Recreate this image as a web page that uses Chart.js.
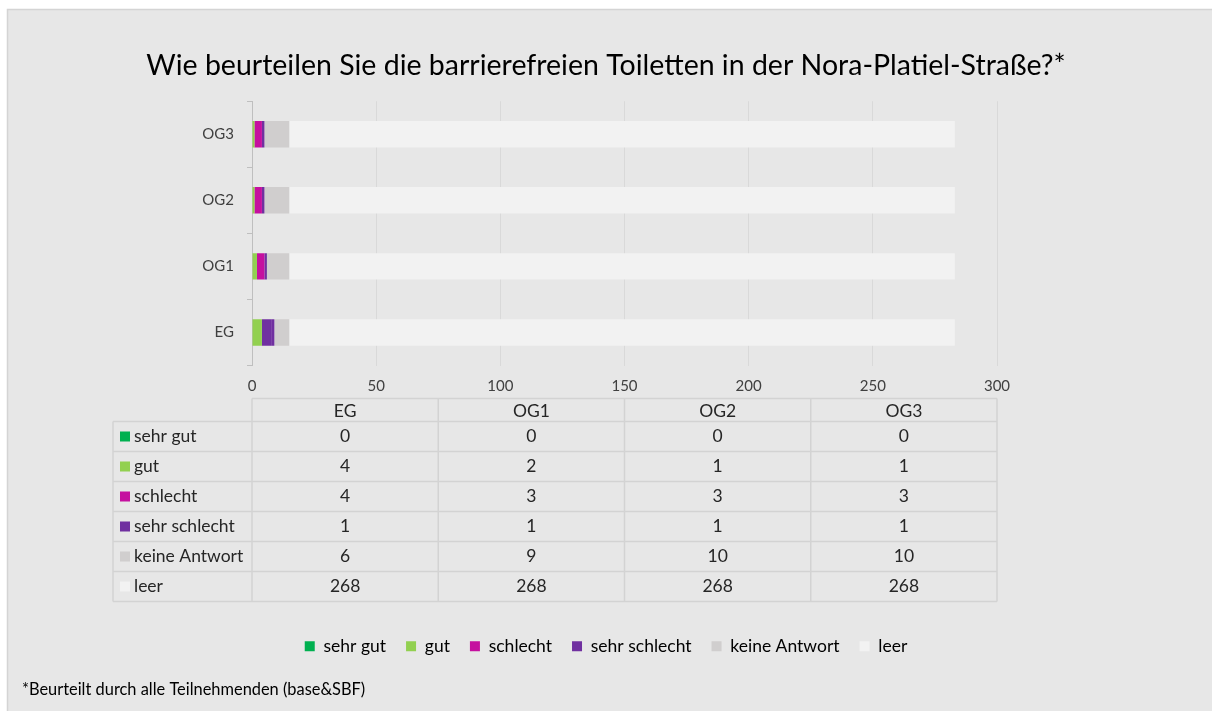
<!DOCTYPE html>
<html>
<head>
<meta charset="utf-8">
<script src="https://cdn.jsdelivr.net/npm/chart.js@4.4.0/dist/chart.umd.min.js"></script>
<style>
html, body { margin: 0; padding: 0; background: #fff; }
#wrap { position: relative; width: 1212px; height: 711px; }
</style>
</head>
<body>
<div id="wrap"><canvas id="toiletChart" width="1212" height="711"></canvas></div>
<script>
// floors, bottom to top like in the chart
const floors = ['EG', 'OG1', 'OG2', 'OG3'];
const ratings = ['sehr gut', 'gut', 'schlecht', 'sehr schlecht', 'keine Antwort', 'leer'];

// answers per floor (same order as floors)
const sehrGut = [0, 0, 0, 0];
const gut = [4, 2, 1, 1];
const schlecht = [4, 3, 3, 3];
const sehrSchlecht = [1, 1, 1, 1];
const keineAntwort = [6, 9, 10, 10];
const leer = [268, 268, 268, 268];

const xTicks = [0, 50, 100, 150, 200, 250, 300];
const colors = ['#00b050', '#92d050', '#c5109f', '#7030a0', '#d0cece', '#f2f2f2'];
// in the original the EG "schlecht" piece is drawn purple
const schlechtColors = ['#7030a0', '#c5109f', '#c5109f', '#c5109f'];

const allValues = [sehrGut, gut, schlecht, sehrSchlecht, keineAntwort, leer];
const font = 'Lato, "Open Sans", sans-serif';

// grey panel + footnote
const panelPlugin = {
	id: 'panel',
	beforeDraw(chart) {
		const c = chart.ctx;
		c.save();
		c.fillStyle = '#ffffff';
		c.fillRect(0, 0, chart.width, chart.height);
		c.fillStyle = '#e7e7e7';
		c.fillRect(7, 9, chart.width - 7, chart.height - 9);
		c.strokeStyle = '#d4d4d4';
		c.lineWidth = 1.5;
		c.beginPath();
		c.moveTo(7.5, chart.height);
		c.lineTo(7.5, 9.5);
		c.lineTo(chart.width, 9.5);
		c.stroke();
		c.restore();
	},
	afterDraw(chart) {
		const c = chart.ctx;
		c.save();
		c.fillStyle = '#000';
		c.font = '16.4px ' + font;
		c.textBaseline = 'middle';
		c.fillText('*Beurteilt durch alle Teilnehmenden (base&SBF)', 22, 690);
		c.restore();
	}
};

// data table under the axis
const tablePlugin = {
	id: 'dataTable',
	afterDraw(chart) {
		const c = chart.ctx;
		const xs = chart.scales.x;
		const top = chart.chartArea.bottom + 33;
		const headH = 23;
		const rowH = 30;
		const colW = (xs.right - xs.left) / floors.length;
		const labelLeft = 113;
		const bottom = top + headH + rowH * ratings.length;

		c.save();
		c.strokeStyle = '#d3d3d3';
		c.lineWidth = 1.5;
		c.beginPath();
		// horizontal lines
		c.moveTo(xs.left, top);
		c.lineTo(xs.right, top);
		for (let r = 0; r <= ratings.length; r++) {
			const y = top + headH + r * rowH;
			c.moveTo(labelLeft, y);
			c.lineTo(xs.right, y);
		}
		// vertical lines
		c.moveTo(labelLeft, top + headH);
		c.lineTo(labelLeft, bottom);
		for (let i = 0; i <= floors.length; i++) {
			const x = xs.left + i * colW;
			c.moveTo(x, top);
			c.lineTo(x, bottom);
		}
		c.stroke();

		c.font = '17.5px ' + font;
		c.fillStyle = '#262626';
		c.textBaseline = 'middle';
		c.textAlign = 'center';
		floors.forEach((f, i) => {
			c.fillText(f, xs.left + (i + 0.5) * colW, top + headH / 2 + 1);
		});
		ratings.forEach((r, k) => {
			const cy = top + headH + k * rowH + rowH / 2;
			c.fillStyle = colors[k];
			c.fillRect(120, cy - 5, 10, 10);
			c.fillStyle = '#262626';
			c.textAlign = 'left';
			c.fillText(r, 134, cy);
			c.textAlign = 'center';
			allValues[k].forEach((v, i) => {
				c.fillText(String(v), xs.left + (i + 0.5) * colW, cy);
			});
		});
		c.restore();
	}
};

const datasets = ratings.map((r, k) => ({
	label: r,
	data: allValues[k],
	backgroundColor: k === 2 ? schlechtColors : colors[k],
	borderWidth: 0,
	barPercentage: 0.4,
	categoryPercentage: 1
}));

const chart = new Chart(document.getElementById('toiletChart').getContext('2d'), {
	type: 'bar',
	data: {
		labels: floors,
		datasets: datasets
	},
	options: {
		indexAxis: 'y',
		responsive: false,
		animation: false,
		events: [],
		layout: {
			padding: { left: 0, right: 0, top: 0, bottom: 46 }
		},
		plugins: {
			title: {
				display: true,
				text: 'Wie beurteilen Sie die barrierefreien Toiletten in der Nora-Platiel-Straße?*',
				color: '#000',
				font: { family: font, size: 28.5, weight: 'normal' },
				padding: { top: 49, bottom: 18 }
			},
			legend: {
				position: 'bottom',
				labels: {
					boxWidth: 10,
					boxHeight: 10,
					padding: 20,
					color: '#262626',
					font: { family: font, size: 17.5 },
					generateLabels: (ch) => ch.data.datasets.map((ds, i) => ({
						text: ds.label,
						fillStyle: colors[i],
						strokeStyle: colors[i],
						lineWidth: 0,
						hidden: false,
						datasetIndex: i
					}))
				}
			},
			tooltip: { enabled: false }
		},
		scales: {
			x: {
				stacked: true,
				min: 0,
				max: 300,
				afterBuildTicks: (scale) => { scale.ticks = xTicks.map(v => ({ value: v })); },
				afterFit: (scale) => { scale.height = 252; },
				grid: { color: '#d9d9d9', drawTicks: false },
				border: { display: false },
				ticks: {
					padding: 12,
					color: '#404040',
					font: { family: font, size: 15 }
				}
			},
			y: {
				stacked: true,
				reverse: true,
				afterFit: (scale) => { scale.width = 252; },
				grid: { drawOnChartArea: false, offset: true, tickLength: 5, color: '#bfbfbf' },
				border: { color: '#bfbfbf' },
				ticks: {
					padding: 13,
					color: '#404040',
					font: { family: font, size: 15 }
				}
			},
			// empty space on the right so title and legend centre on the whole panel
			yRight: {
				type: 'category',
				position: 'right',
				labels: floors,
				afterFit: (scale) => { scale.width = 215; },
				grid: { display: false },
				border: { display: false },
				ticks: { display: false }
			}
		}
	},
	plugins: [panelPlugin, tablePlugin]
});
</script>
</body>
</html>
